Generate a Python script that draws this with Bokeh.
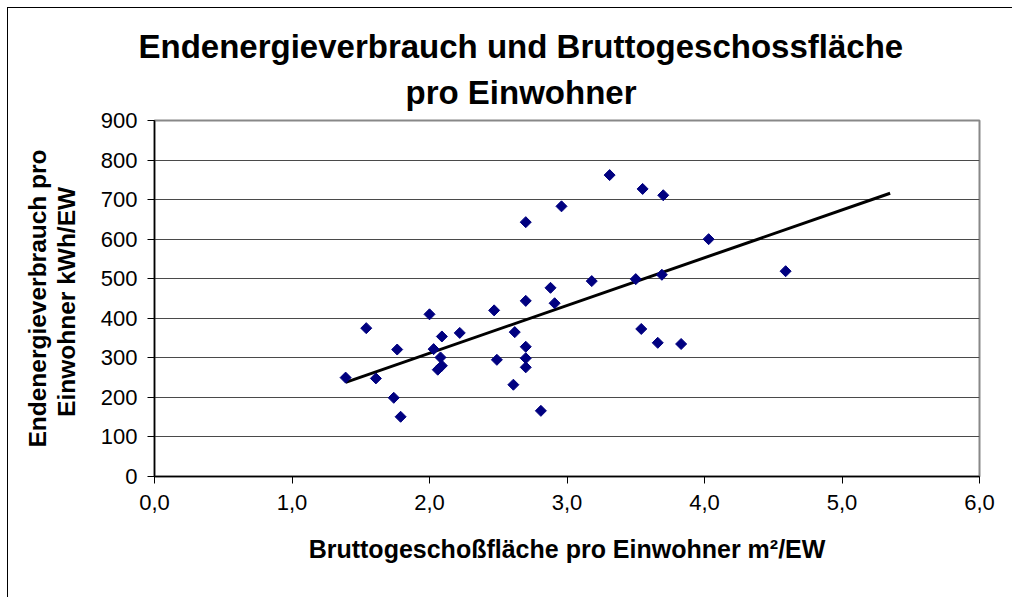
from bokeh.plotting import figure
from bokeh.models import FixedTicker, Range1d, Title
from bokeh.embed import file_html
from bokeh.resources import INLINE

# Data
x_vals = [1.39, 1.54, 1.61, 1.765, 1.74, 1.79, 2.00, 2.03, 2.09, 2.08, 2.09, 2.06,
          2.22, 2.47, 2.49, 2.62, 2.61, 2.70, 2.70, 2.70, 2.70, 2.81, 2.88, 2.91,
          2.70, 2.96, 3.31, 3.55, 3.70, 4.03, 4.59, 3.18, 3.50, 3.69, 3.54, 3.66, 3.83]
y_vals = [250, 375, 248, 321, 199, 151, 410, 322, 354, 301, 280, 270,
          363, 420, 295, 365, 232, 444, 328, 299, 276, 166, 477, 438,
          643, 683, 762, 727, 711, 600, 519, 494, 499, 510, 373, 338, 335]
trend_x = [1.39, 5.35]
trend_y = [238, 716]

x_ticks = [0, 1, 2, 3, 4, 5, 6]
x_tick_labels = ["0,0", "1,0", "2,0", "3,0", "4,0", "5,0", "6,0"]
y_ticks = [0, 100, 200, 300, 400, 500, 600, 700, 800, 900]

title_line1 = "Endenergieverbrauch  und Bruttogeschossfläche"
title_line2 = "pro Einwohner"
x_label = "Bruttogeschoßfläche pro Einwohner m²/EW"
y_label = "Endenergieverbrauch pro\nEinwohner  kWh/EW"

FONT = "Liberation Sans"

p = figure(width=1005, height=590, output_backend="svg", toolbar_location=None,
           x_range=Range1d(0, 6), y_range=Range1d(0, 900),
           min_border_left=146, min_border_right=34,
           min_border_top=112, min_border_bottom=122,
           background_fill_color="white", border_fill_color="white")
p.styles = {"margin-left": "7px", "margin-top": "7px",
            "border-left": "1px solid black", "border-top": "1px solid black"}

# Title (two lines, centred over the chart area)
p.title.visible = False
for text, offset, standoff in ((title_line2, 251, 20), (title_line1, -16, -7)):
    t = Title(text=text, align="left", offset=offset, text_font=FONT,
              text_font_size="33px", text_font_style="bold", text_color="black",
              standoff=standoff)
    p.add_layout(t, "above")

# Frame
p.outline_line_color = "#888888"
p.outline_line_width = 2

# Grid
p.xgrid.visible = False
p.ygrid.ticker = FixedTicker(ticks=y_ticks)
p.ygrid.grid_line_color = "#4a4a4a"
p.ygrid.grid_line_width = 1

# Axes
for ax in (p.xaxis[0], p.yaxis[0]):
    ax.axis_line_color = "black"
    ax.axis_line_width = 1.5
    ax.major_tick_line_color = "black"
    ax.major_tick_line_width = 1
    ax.major_tick_out = 7
    ax.major_tick_in = 0
    ax.minor_tick_line_color = None
    ax.major_label_text_font = FONT
    ax.major_label_text_font_size = "22px"
    ax.major_label_text_color = "black"
    ax.axis_label_text_font = FONT
    ax.axis_label_text_font_style = "bold"
    ax.axis_label_text_color = "black"

p.xaxis.ticker = FixedTicker(ticks=x_ticks)
p.xaxis.major_label_overrides = {t: l for t, l in zip(x_ticks, x_tick_labels)}
p.xaxis.major_label_standoff = 11
p.xaxis.axis_label = x_label
p.xaxis.axis_label_text_font_size = "25px"
p.xaxis.axis_label_standoff = 22

p.yaxis.ticker = FixedTicker(ticks=y_ticks)
p.yaxis.major_label_standoff = 10
p.yaxis.axis_label = y_label
p.yaxis.axis_label_text_font_size = "24.5px"
p.yaxis.axis_label_standoff = 18
p.yaxis.axis_label_text_line_height = 1.05

# Trend line and points
p.line(trend_x, trend_y, line_color="black", line_width=3)
p.scatter(x_vals, y_vals, marker="square", angle=0.785398, size=7.8,
          fill_color="#000080", line_color="#000080")

open("out.html", "w").write(file_html(p, INLINE))
